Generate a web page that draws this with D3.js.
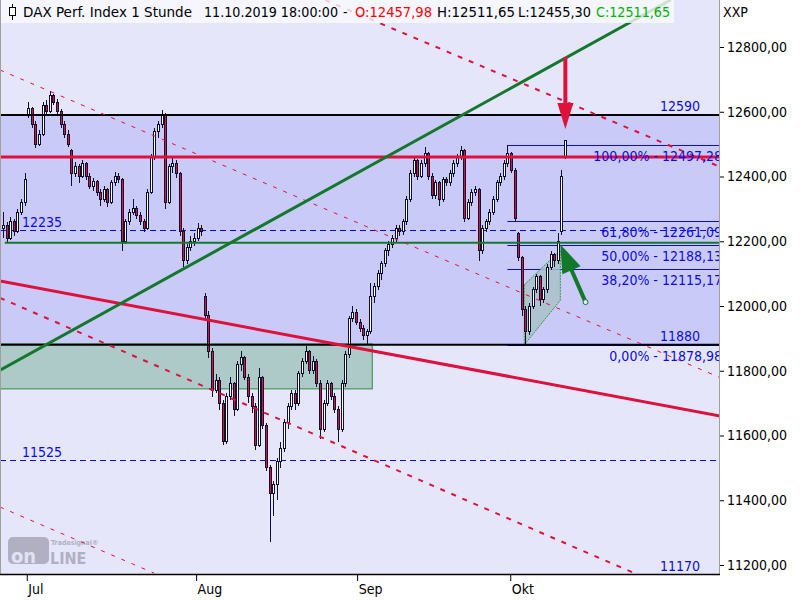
<!DOCTYPE html>
<html><head><meta charset="utf-8">
<script src="https://cdn.jsdelivr.net/npm/d3@7/dist/d3.min.js"></script>
<style>body{margin:0;background:#fff}svg{display:block}text{font-family:"DejaVu Sans Condensed","DejaVu Sans",sans-serif}</style>
</head><body><svg id="c" width="800" height="600"></svg>
<script>
// ---------------- data ----------------
const title = "DAX Perf. Index 1 Stunde";
const stamp = "11.10.2019 18:00:00";
const instrument = "XXP";
// hourly candles (sampled), [open, high, low, close]
const bars = [
[12240,12290,12210,12250],[12250,12260,12195,12210],[12210,12275,12205,12260],[12260,12270,12215,12230],
[12230,12300,12225,12290],[12290,12330,12280,12320],[12320,12410,12310,12390],[12590,12630,12580,12610],
[12610,12615,12550,12560],[12560,12570,12488,12500],[12500,12545,12495,12530],[12530,12630,12525,12620],
[12620,12635,12590,12600],[12600,12665,12595,12650],[12650,12655,12620,12630],[12630,12640,12590,12600],
[12600,12610,12550,12560],[12560,12570,12520,12530],[12530,12545,12490,12500],[12480,12485,12370,12410],
[12410,12445,12400,12430],[12430,12440,12380,12400],[12400,12450,12395,12440],[12440,12445,12390,12400],
[12400,12410,12360,12370],[12370,12395,12355,12385],[12385,12390,12340,12350],[12350,12360,12310,12330],
[12330,12370,12320,12360],[12360,12365,12305,12320],[12320,12390,12315,12380],[12380,12415,12370,12400],
[12400,12410,12380,12390],[12390,12395,12170,12200],[12200,12270,12190,12260],[12260,12300,12250,12290],
[12290,12330,12280,12300],[12300,12310,12270,12280],[12280,12290,12250,12260],[12260,12270,12230,12240],
[12240,12360,12235,12350],[12350,12470,12345,12460],[12460,12550,12450,12540],[12540,12570,12520,12560],
[12560,12605,12550,12590],[12590,12595,12300,12320],[12320,12440,12315,12430],[12430,12460,12410,12440],
[12440,12450,12395,12410],[12410,12415,12215,12230],[12230,12240,12120,12140],[12140,12190,12130,12180],
[12180,12215,12170,12200],[12200,12225,12185,12210],[12210,12255,12200,12240],[12240,12250,12215,12230],
[12030,12040,11955,11970],[11970,11985,11840,11860],[11860,11870,11720,11740],[11740,11790,11730,11770],
[11770,11780,11680,11700],[11700,11710,11570,11580],[11580,11730,11575,11720],[11720,11780,11710,11760],
[11760,11765,11660,11680],[11680,11830,11675,11820],[11820,11860,11800,11840],[11840,11845,11770,11780],
[11780,11790,11700,11720],[11720,11730,11670,11690],[11690,11700,11555,11570],[11570,11810,11565,11780],
[11780,11785,11620,11630],[11630,11640,11490,11500],[11500,11510,11270,11420],[11420,11460,11350,11450],
[11450,11530,11400,11520],[11520,11580,11500,11560],[11560,11650,11550,11640],[11640,11700,11620,11690],
[11690,11740,11680,11730],[11730,11740,11680,11700],[11700,11800,11690,11790],[11790,11840,11780,11830],
[11830,11875,11820,11860],[11860,11865,11790,11800],[11800,11845,11790,11830],[11830,11835,11750,11760],
[11760,11770,11590,11620],[11620,11710,11610,11700],[11700,11770,11690,11760],[11760,11765,11710,11720],
[11720,11730,11670,11680],[11680,11690,11580,11620],[11620,11770,11610,11760],[11760,11860,11750,11850],
[11850,11970,11840,11960],[11960,12000,11950,11980],[11980,11990,11940,11950],[11950,11960,11920,11930],
[11930,11940,11895,11910],[11910,11930,11880,11920],[11920,12070,11915,12030],[12030,12070,12010,12060],
[12060,12110,12050,12100],[12100,12140,12080,12130],[12130,12180,12120,12170],[12170,12200,12155,12190],
[12190,12220,12180,12210],[12210,12250,12195,12240],[12240,12250,12215,12230],[12230,12270,12220,12260],
[12260,12340,12250,12330],[12330,12420,12320,12410],[12410,12460,12400,12450],[12450,12455,12390,12400],
[12400,12450,12395,12440],[12440,12490,12430,12470],[12470,12475,12390,12400],[12400,12410,12330,12340],
[12340,12390,12330,12380],[12380,12385,12310,12330],[12330,12400,12320,12390],[12390,12400,12370,12380],
[12380,12420,12370,12410],[12410,12450,12400,12440],[12440,12470,12430,12460],[12460,12495,12450,12480],
[12480,12485,12260,12270],[12270,12330,12265,12320],[12320,12360,12310,12350],[12350,12370,12340,12360],
[12360,12365,12140,12170],[12170,12250,12160,12240],[12240,12270,12230,12260],[12260,12300,12250,12290],
[12290,12340,12280,12330],[12330,12390,12320,12380],[12380,12410,12370,12400],[12400,12450,12390,12440],
[12440,12497,12430,12470],[12470,12475,12410,12420],[12420,12425,12260,12270],[12225,12230,12140,12150],
[12150,12155,11970,11990],[11990,12000,11879,11920],[11920,12010,11910,12000],[12000,12060,11990,12050],
[12050,12100,12040,12090],[12090,12095,12000,12020],[12020,12060,12010,12050],[12050,12130,12040,12120],
[12120,12170,12110,12160],[12160,12165,12120,12140],[12140,12225,12130,12200],[12230,12420,12220,12400],
[12457.98,12511.65,12455.30,12511.65]
];
const monthLabels = ["Jul","Aug","Sep","Okt"];
const monthTickBars = [6.6, 53.6, 98.3, 140.8];
const yMajorTicks = [11200,11400,11600,11800,12000,12200,12400,12600,12800];
const yMinorTicks = [11250,11300,11350,11450,11500,11550,11650,11700,11750,11850,11900,11950,12050,12100,12150,12250,12300,12350,12450,12500,12550,12650,12700,12750,12850];
// support / resistance
const bandTop = 12590, bandBottom = 11880;
const blackLevels = [12590, 11880];
const redLevel = 12460;
const greenLevel = 12195;
const blueDashedLevels = [12235, 11525];
const rightLabels = [["12590",12590],["11880",11880],["11170",11170]];
const leftLabels = [["12235",12235],["11525",11525]];
// fibonacci retracement
const fibStartBar = 140;
const fibPct = ["100,00%","61,80%","50,00%","38,20%","0,00%"];
const fibVals = [12497.28,12261.09,12188.13,12115.17,11878.98];
// trend lines [bar, price]
const greenTrend = [[-0.83,11802],[185.3,12945]];
const redTrend = [[-0.83,12077],[199.2,11660]];
const redDashThin = [[[-0.83,12729],[199.2,11778]],[[-0.83,11379],[41.9,11175]]];
const redDashThick = [[[89.4,12945],[199.2,12429]],[[-0.83,12025],[178.3,11160]]];
// zones
const greenBox = {b0:-0.83, b1:102.5, p0:11883, p1:11744};
const flag = [[144.7,12065],[154.7,12173],[154.7,12018],[144.7,11880]];
// arrows [from, to]
const redArrow = [[156.1,12769],[156.1,12547]];
const greenArrow = [[161.7,12012],[154.7,12190]];

// ---------------- chart ----------------
const svg = d3.select("#c");
const W = 720, H = 574;
const x = d3.scaleLinear().domain([0, bars.length-1]).range([3, 565]);
const y = d3.scaleLinear().domain([11200, 12800]).range([565, 47]);
const RED = "#E0103C", GREEN = "#14782C", BLUE = "#0A0AF0", INK = "#101030";
const snap = v => Math.round(v) + 0.5;

svg.append("defs").append("clipPath").attr("id","plot").append("rect").attr("width",W).attr("height",H);
const g = svg.append("g").attr("clip-path","url(#plot)");
g.append("rect").attr("width",W).attr("height",H).attr("fill","#E6E6FA");
g.append("rect").attr("x",0).attr("width",W).attr("y",y(bandTop)).attr("height",y(bandBottom)-y(bandTop)).attr("fill","#CACAF8");
g.append("rect").attr("x",x(greenBox.b0)).attr("width",x(greenBox.b1)-x(greenBox.b0))
 .attr("y",y(greenBox.p0)).attr("height",y(greenBox.p1)-y(greenBox.p0))
 .attr("fill","#AECAC8").attr("stroke","#2E8B3E").attr("stroke-width",1);

// logo watermark
const logo = g.append("g").attr("opacity",0.9);
logo.append("rect").attr("x",8).attr("y",537).attr("width",41).attr("height",27).attr("rx",5).attr("fill","#ABABBD");
logo.append("text").attr("x",11).attr("y",563).attr("font-size",20).attr("font-weight","bold").attr("fill","#E2E2F4").text("on");
logo.append("text").attr("x",50).attr("y",564).attr("font-size",16).attr("font-weight","bold").attr("fill","#ABABBD").text("LINE");
logo.append("text").attr("x",51).attr("y",545).attr("font-size",7).attr("font-weight","bold").attr("fill","#ABABBD").text("Tradesignal®");

// blue dashed levels
g.selectAll(".bd").data(blueDashedLevels).join("line").attr("x1",0).attr("x2",W)
 .attr("y1",d=>snap(y(d))).attr("y2",d=>snap(y(d))).attr("stroke",BLUE).attr("stroke-width",1).attr("stroke-dasharray","6,4");

// fib lines
g.selectAll(".fib").data(fibVals).join("line").attr("x1",x(fibStartBar)).attr("x2",W)
 .attr("y1",d=>snap(y(d))).attr("y2",d=>snap(y(d))).attr("stroke",BLUE).attr("stroke-width",1);

// flag
g.append("polygon").attr("points",flag.map(p=>[x(p[0]),y(p[1])].join(",")).join(" "))
 .attr("fill","#A9C2C8").attr("fill-opacity",0.85).attr("stroke","#2E9B3E").attr("stroke-width",1).attr("stroke-dasharray","2,1");

// candles
const cg = g.append("g").attr("shape-rendering","crispEdges");
bars.forEach((b,i)=>{
  const cx = Math.round(x(i));
  cg.append("line").attr("x1",cx+0.5).attr("x2",cx+0.5).attr("y1",y(b[1])).attr("y2",y(b[2])).attr("stroke",INK).attr("stroke-width",1);
  const top = y(Math.max(b[0],b[3])), bot = y(Math.min(b[0],b[3]));
  cg.append("rect").attr("x",cx-0.5).attr("width",2).attr("y",top).attr("height",Math.max(1,bot-top))
    .attr("fill", b[3]>=b[0] ? "#FFFFFF" : "#D8103A").attr("stroke",INK).attr("stroke-width",1);
});

// horizontal levels
g.selectAll(".bl").data(blackLevels).join("line").attr("x1",0).attr("x2",W)
 .attr("y1",d=>y(d)).attr("y2",d=>y(d)).attr("stroke","#000").attr("stroke-width",2);
g.append("line").attr("x1",0).attr("x2",W).attr("y1",y(redLevel)).attr("y2",y(redLevel)).attr("stroke",RED).attr("stroke-width",3);
g.append("line").attr("x1",x(0.5)).attr("x2",W).attr("y1",y(greenLevel)).attr("y2",y(greenLevel)).attr("stroke",GREEN).attr("stroke-width",2);

// trend lines
const seg = (sel, pts)=>sel.append("line").attr("x1",x(pts[0][0])).attr("y1",y(pts[0][1])).attr("x2",x(pts[1][0])).attr("y2",y(pts[1][1]));
redDashThin.forEach(p=>seg(g,p).attr("stroke",RED).attr("stroke-width",1).attr("stroke-dasharray","4,7"));
redDashThick.forEach(p=>seg(g,p).attr("stroke",RED).attr("stroke-width",2).attr("stroke-dasharray","5,7"));
seg(g,redTrend).attr("stroke",RED).attr("stroke-width",3);
seg(g,greenTrend).attr("stroke",GREEN).attr("stroke-width",3);

// arrows
function arrow(pts, color, hl, hw, sw){
  const x0=x(pts[0][0]), y0=y(pts[0][1]), x1=x(pts[1][0]), y1=y(pts[1][1]);
  const L=Math.hypot(x1-x0,y1-y0), ux=(x1-x0)/L, uy=(y1-y0)/L, px=-uy, py=ux;
  const bx=x1-ux*hl, by=y1-uy*hl;
  g.append("line").attr("x1",x0).attr("y1",y0).attr("x2",bx+ux*2).attr("y2",by+uy*2).attr("stroke",color).attr("stroke-width",sw);
  g.append("polygon").attr("points",[[x1,y1],[bx+px*hw,by+py*hw],[bx-px*hw,by-py*hw]].map(p=>p.join(",")).join(" ")).attr("fill",color);
  return [x0,y0];
}
arrow(redArrow, RED, 26, 8, 4);
const ga = arrow(greenArrow, GREEN, 28, 10, 4);
g.append("circle").attr("cx",ga[0]).attr("cy",ga[1]).attr("r",2.5).attr("fill","#E8E8F8").attr("stroke",GREEN).attr("stroke-width",1);

// labels in plot
const fmt = v=>v.toFixed(2).replace(".",",");
g.selectAll(".rl").data(rightLabels).join("text").attr("x",700).attr("y",d=>y(d[1])-4).attr("text-anchor","end")
 .attr("font-size",14).attr("fill",BLUE).text(d=>d[0]);
g.selectAll(".ll").data(leftLabels).join("text").attr("x",22).attr("y",d=>y(d[1])-3)
 .attr("font-size",14).attr("fill",BLUE).text(d=>d[0]);
g.selectAll(".fl").data(fibVals).join("text").attr("x",722).attr("y",d=>y(d)+16).attr("text-anchor","end")
 .attr("font-size",14).attr("fill",BLUE).text((d,i)=>fibPct[i]+" - "+fmt(d));

// header
const last = bars[bars.length-1];
g.append("rect").attr("x",0).attr("y",0).attr("width",674).attr("height",23).attr("fill","#FAFAFF").attr("fill-opacity",0.8);
const ic = g.append("g").attr("stroke","#000").attr("fill","none").attr("shape-rendering","crispEdges");
ic.append("line").attr("x1",12.5).attr("x2",12.5).attr("y1",4).attr("y2",20);
ic.append("rect").attr("x",9.5).attr("y",7.5).attr("width",6).attr("height",8).attr("fill","#fff");
const hdr = [
  [title, 23, 169, "#000"], [stamp, 204, 134, "#000"], ["-", 343, null, "#000"],
  ["O:"+fmt(last[0]), 355, 77, "#FF0000"], ["H:"+fmt(last[1]), 437, 78, "#000"],
  ["L:"+fmt(last[2]), 518, 73, "#000"], ["C:"+fmt(last[3]), 596, 74, "#00B400"]];
hdr.forEach(h=>{
  const t = g.append("text").attr("x",h[1]).attr("y",17).attr("font-size",14).attr("fill",h[3]).text(h[0]);
  if (h[2]) t.attr("textLength",h[2]).attr("lengthAdjust","spacingAndGlyphs");
});

// frame
svg.append("line").attr("x1",0.5).attr("x2",0.5).attr("y1",0).attr("y2",H).attr("stroke","#A0A0A0");
svg.append("line").attr("x1",W-0.5).attr("x2",W-0.5).attr("y1",0).attr("y2",H+1).attr("stroke","#A0A0A0");
svg.append("line").attr("x1",0).attr("x2",W).attr("y1",H+0.5).attr("y2",H+0.5).attr("stroke","#000").attr("stroke-width",1.5);

// right axis
const ra = svg.append("g").attr("transform",`translate(${W},0)`);
ra.call(d3.axisRight(y).tickValues(yMinorTicks).tickSize(4).tickFormat(""));
ra.call(d3.axisRight(y).tickValues(yMajorTicks).tickSize(4).tickPadding(3).tickFormat(fmt));
ra.selectAll(".domain").remove();
ra.selectAll("text").attr("font-size",14).attr("fill","#000").attr("font-family",'"DejaVu Sans Condensed","DejaVu Sans",sans-serif');
ra.selectAll("line").attr("stroke","#000");
svg.append("text").attr("x",723).attr("y",17).attr("font-size",14).text(instrument);

// bottom axis
const ba = svg.append("g").attr("transform",`translate(0,${H+1})`);
ba.call(d3.axisBottom(x).tickValues(monthTickBars).tickSize(6).tickFormat((d,i)=>monthLabels[i]));
ba.selectAll(".domain").remove();
ba.selectAll("line").attr("stroke","#000");
ba.selectAll("text").attr("text-anchor","start").attr("dx",1).attr("font-size",14).attr("fill","#000")
  .attr("font-family",'"DejaVu Sans Condensed","DejaVu Sans",sans-serif');
</script></body></html>
